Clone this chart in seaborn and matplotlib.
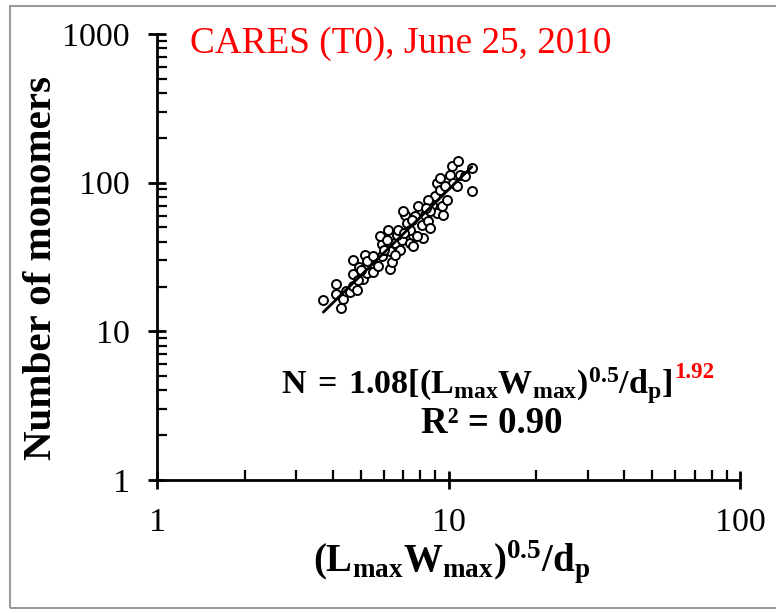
import numpy as np
import pandas as pd
import matplotlib
matplotlib.use("Agg")
import matplotlib.pyplot as plt
import seaborn as sns
from matplotlib.ticker import FixedLocator, FixedFormatter, LogLocator, NullFormatter
from matplotlib.patches import Rectangle

# ---- data ----
size_param = [3.72, 4.27, 4.11, 4.11, 4.36, 4.45, 4.59, 4.71, 4.84, 4.69,
              4.71, 4.94, 5.10, 5.17, 5.27, 5.45, 5.52, 5.74, 5.90, 5.90,
              5.82, 6.30, 6.38, 6.30, 6.56, 6.82, 6.91, 6.14, 5.24, 5.52,
              6.22, 6.64, 7.09, 7.19, 7.38, 7.57, 7.67, 7.88, 8.09, 8.20,
              8.31, 8.52, 8.64, 8.76, 8.99, 9.11, 7.57, 7.00, 8.52, 8.64,
              9.11, 9.35, 9.35, 9.48, 9.60, 9.86, 10.12, 10.25, 10.39, 10.80,
              10.95, 11.39, 12.02, 12.02, 7.38, 7.78, 9.72, 10.67, 6.01, 6.71,
              7.04, 6.56, 5.01, 4.89, 7.50, 8.37]
monomers = [16.2, 14.3, 20.9, 17.9, 16.6, 18.6, 18.4, 20.1, 19.1, 24.4,
            30.1, 27.2, 22.6, 32.4, 24.5, 28.9, 25.0, 27.7, 32.0, 38.4,
            43.6, 26.1, 29.2, 34.6, 39.4, 35.5, 41.4, 41.4, 29.6, 32.0,
            48.4, 44.8, 61.0, 53.6, 39.4, 44.8, 59.4, 69.3, 52.3, 42.6,
            61.0, 55.0, 49.7, 71.2, 80.9, 62.6, 37.4, 64.2, 76.9, 64.2,
            99.5, 107.5, 89.8, 69.3, 61.0, 76.9, 113.2, 128.7, 99.5, 139.0,
            113.2, 110.2, 87.4, 125.5, 48.4, 43.6, 94.4, 94.4, 35.5, 48.4,
            46.2, 32.4, 25.7, 22.0, 56.4, 67.9]

fit_coef = 1.08
fit_exp = 1.92
fit_range = [3.72, 12.02]
r_squared = 0.90

x_ticks = [1, 10, 100]
y_ticks = [1, 10, 100, 1000]
title_text = "CARES (T0), June 25, 2010"

# ---- style ----
sns.set_theme(style="ticks")
plt.rcParams["font.family"] = ["Liberation Serif", "DejaVu Serif"]
plt.rcParams["mathtext.fontset"] = "custom"
plt.rcParams["mathtext.rm"] = "Liberation Serif"
plt.rcParams["mathtext.bf"] = "Liberation Serif:bold"
plt.rcParams["mathtext.it"] = "Liberation Serif:italic"
plt.rcParams["text.color"] = "black"
plt.rcParams["axes.labelcolor"] = "black"
plt.rcParams["xtick.color"] = "black"
plt.rcParams["ytick.color"] = "black"

W, H = 776, 613
fig = plt.figure(figsize=(W / 100, H / 100), dpi=100)
ax = fig.add_axes([157 / W, 1 - 480 / H, (740 - 157) / W, (480 - 34) / H])

df = pd.DataFrame({"x": size_param, "y": monomers})
sns.scatterplot(data=df, x="x", y="y", ax=ax, marker="o", s=42,
                facecolor="white", edgecolor="black", linewidth=1.4, zorder=3)

fit_df = pd.DataFrame({"x": fit_range,
                       "y": [fit_coef * v ** fit_exp for v in fit_range]})
sns.lineplot(data=fit_df, x="x", y="y", ax=ax, color="black", lw=2.0, zorder=4)

ax.set_xscale("log")
ax.set_yscale("log")
ax.set_xlim(1, 100)
ax.set_ylim(1, 1000)

for sp in ["top", "right"]:
    ax.spines[sp].set_visible(False)
for sp in ["left", "bottom"]:
    ax.spines[sp].set_linewidth(2.0)
    ax.spines[sp].set_color("black")

ax.xaxis.set_major_locator(FixedLocator(x_ticks))
ax.xaxis.set_major_formatter(FixedFormatter([str(v) for v in x_ticks]))
ax.yaxis.set_major_locator(FixedLocator(y_ticks))
ax.yaxis.set_major_formatter(FixedFormatter([str(v) for v in y_ticks]))
ax.xaxis.set_minor_locator(LogLocator(base=10, subs=np.arange(2, 10)))
ax.yaxis.set_minor_locator(LogLocator(base=10, subs=np.arange(2, 10)))
ax.xaxis.set_minor_formatter(NullFormatter())
ax.yaxis.set_minor_formatter(NullFormatter())

ax.tick_params(axis="both", which="major", direction="inout", length=13,
               width=2, labelsize=24.5, colors="black", pad=13)
ax.tick_params(axis="both", which="minor", direction="in", length=7,
               width=1.6, colors="black")

ax.set_xlabel(r"$\mathbf{(L_{max}W_{max})^{0.5}/d_{p}}$", fontsize=28,
              color="black")
ax.xaxis.set_label_coords((452 - 157) / 583, -(538 - 480) / 446)
ax.set_ylabel("Number of monomers", fontsize=29.5, fontweight="bold",
              color="black")
ax.yaxis.set_label_coords(-(157 - 60) / 583, (480 - 268) / 446)
ax.grid(False)

fig.text(190 / W, 1 - 53 / H, title_text, color="red", fontsize=26.8,
         ha="left", va="baseline")

eq = fig.text(281 / W, 1 - 394 / H,
              r"$\mathbf{N\;=\;1.08[(L_{max}W_{max})^{0.5}/d_{p}]}$",
              fontsize=24.5, ha="left", va="baseline", color="black")
fig.text(492 / W, 1 - 433 / H, f"R² = {r_squared:.2f}",
         fontsize=26.5, fontweight="bold", ha="center", va="baseline",
         color="black")

fig.canvas.draw()
bb = eq.get_window_extent(renderer=fig.canvas.get_renderer())
fig.text(bb.x1 / W + 2 / W, 1 - 378 / H, f"{fit_exp:.2f}", color="red",
         fontsize=16.5, fontweight="bold", ha="left", va="baseline")

fig.patches.append(Rectangle((10 / W, 1 - 608 / H), 1.1, (608 - 6) / H,
                             transform=fig.transFigure, fill=False,
                             edgecolor="#9a9a9a", lw=1.5))

fig.savefig("out.png", dpi=100, facecolor="white")
